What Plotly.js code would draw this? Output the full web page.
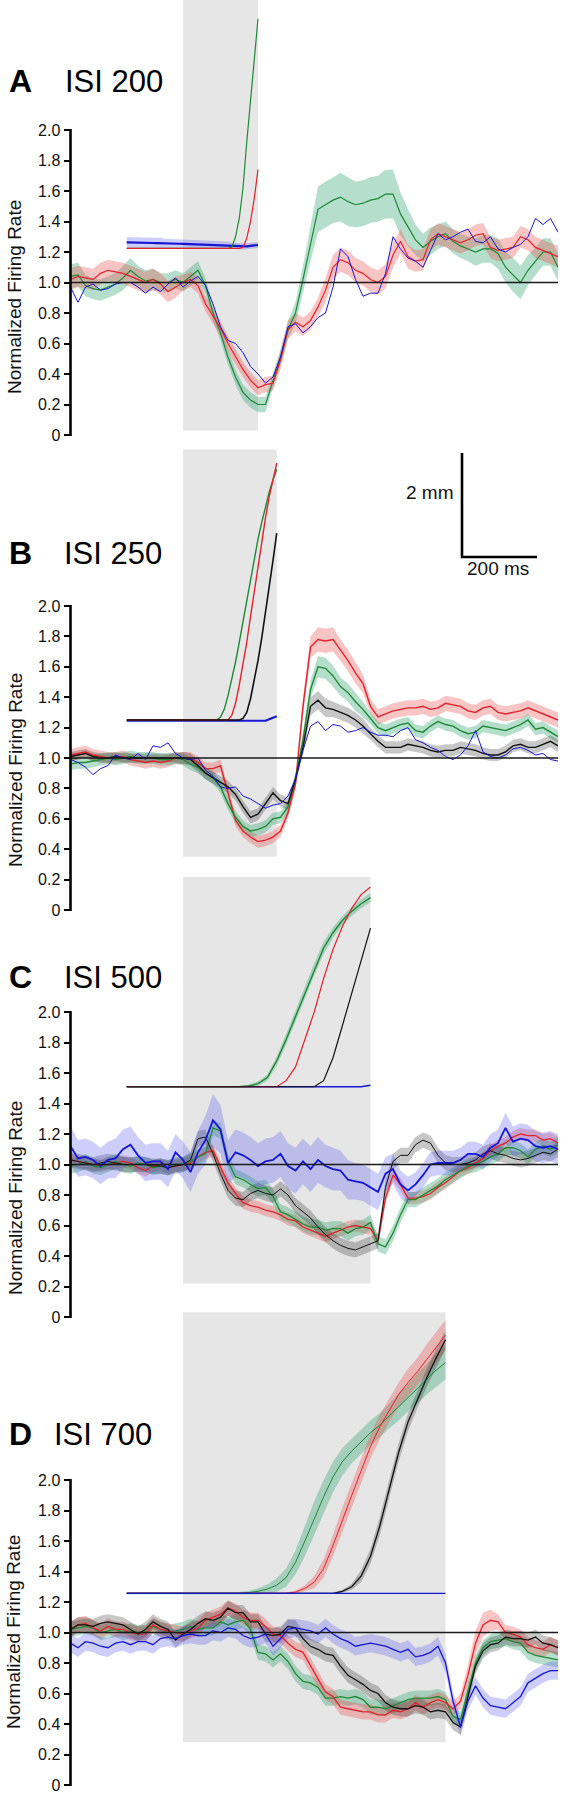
<!DOCTYPE html>
<html><head><meta charset="utf-8">
<script src="https://cdn.plot.ly/plotly-3.0.1.min.js"></script>
<style>html,body{margin:0;padding:0;background:#fff}#chart{width:566px;height:1798px}</style>
</head><body><div id="chart"></div>
<script>
// ---------------- DATA ----------------
// time (ms) relative to first stimulus
const T = [-300,-280,-260,-240,-220,-200,-180,-160,-140,-120,
 -100,-80,-60,-40,-20,0,20,40,60,80,
 100,120,140,160,180,200,220,240,260,280,
 300,320,340,360,380,400,420,440,460,480,
 500,520,540,560,580,600,620,640,660,680,
 700,720,740,760,780,800,820,840,860,880,
 900,920,940,960,980,1000];
const ISI = [200, 250, 500, 700];
const PANEL_LETTERS = ['A','B','C','D'];
const PANEL_TITLES = ['ISI 200','ISI 250','ISI 500','ISI 700'];
const Y_TITLE = 'Normalized Firing Rate';
const TICK_VALS = [0,0.2,0.4,0.6,0.8,1.0,1.2,1.4,1.6,1.8,2.0];
const TICK_TEXT = ['0','0.2','0.4','0.6','0.8','1.0','1.2','1.4','1.6','1.8','2.0'];
const BASELINE = 1.0;
const SCALE_MS = '200 ms', SCALE_MM = '2 mm';

// Panel A firing rates
const A_green = [1.04,1.05,0.98,0.96,0.95,0.97,0.99,1.03,1.08,1.04,
 1.01,1.02,1.00,1.00,1.02,1.00,1.04,1.08,0.98,0.80,
 0.67,0.51,0.38,0.28,0.23,0.20,0.20,0.36,0.51,0.69,
 0.80,1.02,1.26,1.48,1.51,1.54,1.56,1.53,1.51,1.52,
 1.54,1.55,1.58,1.58,1.45,1.36,1.28,1.23,1.27,1.30,
 1.32,1.27,1.24,1.22,1.20,1.22,1.22,1.19,1.10,1.05,
 1.00,1.08,1.14,1.20,1.20,1.10];
const A_green_sem = [0.08,0.08,0.07,0.07,0.07,0.07,0.07,0.08,0.08,0.07,
 0.07,0.07,0.06,0.06,0.06,0.06,0.06,0.06,0.05,0.05,
 0.05,0.05,0.05,0.05,0.05,0.05,0.05,0.05,0.05,0.06,
 0.07,0.09,0.12,0.15,0.15,0.15,0.16,0.16,0.15,0.15,
 0.15,0.15,0.16,0.16,0.14,0.12,0.10,0.09,0.09,0.08,
 0.08,0.08,0.08,0.08,0.09,0.09,0.09,0.10,0.10,0.11,
 0.11,0.10,0.09,0.09,0.09,0.09];
const A_red = [1.02,1.04,1.03,1.02,1.06,1.08,1.07,1.06,1.04,1.02,
 1.00,1.02,0.99,0.94,0.97,1.00,1.02,0.98,0.86,0.78,
 0.70,0.60,0.51,0.43,0.36,0.31,0.33,0.34,0.49,0.69,
 0.74,0.71,0.75,0.84,0.95,1.10,1.15,1.13,1.08,1.06,
 1.02,1.00,1.04,1.18,1.27,1.17,1.14,1.15,1.28,1.32,
 1.30,1.28,1.26,1.28,1.31,1.32,1.23,1.21,1.22,1.23,
 1.30,1.28,1.23,1.21,1.19,1.17];
const A_red_sem = [0.07,0.07,0.07,0.07,0.07,0.07,0.07,0.07,0.07,0.07,
 0.07,0.07,0.07,0.07,0.07,0.05,0.05,0.05,0.05,0.05,
 0.05,0.05,0.05,0.05,0.05,0.05,0.05,0.05,0.06,0.06,
 0.06,0.06,0.06,0.06,0.08,0.08,0.08,0.08,0.08,0.08,
 0.08,0.08,0.08,0.08,0.08,0.08,0.07,0.07,0.07,0.07,
 0.07,0.07,0.07,0.07,0.07,0.07,0.07,0.07,0.07,0.07,
 0.07,0.07,0.07,0.07,0.07,0.07];
const A_blue = [0.97,0.87,0.97,0.99,0.95,0.96,0.99,1.00,1.00,0.97,
 0.93,0.97,0.94,0.99,1.03,0.97,1.01,1.04,0.98,0.86,
 0.71,0.62,0.60,0.54,0.45,0.40,0.34,0.38,0.51,0.71,
 0.73,0.67,0.71,0.77,0.80,0.97,1.22,1.17,1.02,0.91,
 0.93,0.93,1.06,1.30,1.22,1.16,1.14,1.10,1.21,1.32,
 1.28,1.30,1.33,1.35,1.27,1.26,1.30,1.22,1.20,1.23,
 1.25,1.30,1.42,1.38,1.42,1.33];

// Panel B firing rates
const B_red = [1.02,1.03,1.04,1.02,1.01,1.00,1.00,1.01,0.99,0.98,
 0.97,0.98,0.97,0.98,1.00,1.00,1.00,0.97,0.93,0.93,
 0.95,0.77,0.59,0.52,0.48,0.45,0.46,0.48,0.52,0.64,
 0.83,1.34,1.73,1.78,1.77,1.78,1.71,1.64,1.56,1.49,
 1.34,1.27,1.29,1.31,1.32,1.33,1.33,1.34,1.32,1.33,
 1.36,1.35,1.34,1.31,1.30,1.33,1.34,1.30,1.29,1.30,
 1.31,1.33,1.31,1.29,1.27,1.25];
const B_red_sem = [0.04,0.04,0.04,0.04,0.04,0.04,0.04,0.04,0.04,0.04,
 0.04,0.04,0.04,0.04,0.04,0.04,0.04,0.04,0.04,0.04,
 0.04,0.04,0.04,0.04,0.04,0.04,0.04,0.04,0.04,0.04,
 0.05,0.06,0.07,0.08,0.08,0.08,0.07,0.07,0.07,0.06,
 0.05,0.05,0.05,0.05,0.05,0.05,0.05,0.05,0.05,0.05,
 0.05,0.05,0.05,0.05,0.05,0.05,0.05,0.05,0.05,0.05,
 0.05,0.05,0.05,0.05,0.05,0.05];
const B_green = [0.96,0.97,0.97,0.98,0.99,1.00,0.99,1.00,1.01,1.00,
 1.00,1.00,0.99,0.99,1.00,0.99,0.96,0.94,0.90,0.87,
 0.81,0.70,0.61,0.55,0.52,0.53,0.55,0.60,0.61,0.68,
 0.86,1.12,1.45,1.60,1.59,1.54,1.47,1.43,1.37,1.32,
 1.26,1.20,1.18,1.20,1.22,1.23,1.18,1.17,1.21,1.24,
 1.22,1.21,1.18,1.16,1.17,1.21,1.20,1.19,1.18,1.20,
 1.22,1.25,1.19,1.20,1.17,1.14];
const B_green_sem = [0.04,0.04,0.04,0.04,0.04,0.04,0.04,0.04,0.04,0.04,
 0.04,0.04,0.04,0.04,0.04,0.04,0.04,0.04,0.04,0.04,
 0.04,0.04,0.04,0.04,0.04,0.04,0.04,0.04,0.04,0.04,
 0.04,0.05,0.06,0.07,0.07,0.07,0.06,0.06,0.06,0.05,
 0.04,0.04,0.04,0.04,0.04,0.04,0.04,0.04,0.04,0.04,
 0.04,0.04,0.04,0.04,0.04,0.04,0.04,0.04,0.04,0.04,
 0.04,0.04,0.04,0.04,0.04,0.04];
const B_black = [1.01,1.02,1.03,1.01,1.00,1.00,1.01,1.00,1.00,1.00,
 1.00,1.00,1.00,1.00,1.00,1.00,0.99,0.95,0.90,0.87,
 0.84,0.81,0.76,0.68,0.61,0.63,0.70,0.77,0.72,0.70,
 0.86,1.07,1.34,1.38,1.33,1.32,1.30,1.28,1.25,1.21,
 1.16,1.11,1.07,1.07,1.07,1.09,1.08,1.07,1.05,1.04,
 1.05,1.05,1.07,1.06,1.05,1.03,1.02,1.02,1.04,1.08,
 1.09,1.07,1.07,1.09,1.11,1.08];
const B_black_sem = [0.03,0.03,0.03,0.03,0.03,0.03,0.03,0.03,0.03,0.03,
 0.03,0.03,0.03,0.03,0.03,0.04,0.04,0.04,0.04,0.04,
 0.04,0.04,0.04,0.04,0.04,0.04,0.04,0.04,0.04,0.04,
 0.04,0.05,0.06,0.06,0.06,0.05,0.05,0.05,0.05,0.05,
 0.04,0.04,0.04,0.04,0.04,0.04,0.04,0.04,0.04,0.04,
 0.04,0.04,0.04,0.04,0.04,0.04,0.04,0.04,0.04,0.04,
 0.04,0.04,0.04,0.04,0.04,0.04];
const B_blue = [0.99,0.97,0.94,0.89,0.93,0.95,1.02,1.00,0.99,1.03,
 0.99,1.08,1.07,1.10,1.03,1.00,0.99,1.00,0.92,0.88,
 0.81,0.80,0.81,0.75,0.73,0.70,0.67,0.69,0.70,0.75,
 0.86,1.05,1.21,1.24,1.18,1.22,1.21,1.17,1.18,1.20,
 1.17,1.15,1.15,1.14,1.18,1.20,1.12,1.10,1.07,1.05,
 1.01,0.99,1.02,1.08,1.18,1.04,1.01,1.00,1.02,1.06,
 1.07,1.05,1.02,1.03,0.99,0.98];

// Panel C firing rates
const C_red = [1.03,1.02,1.01,1.00,0.99,1.00,1.01,1.02,1.01,0.98,
 0.96,0.99,1.00,0.98,0.99,1.00,1.01,1.05,1.08,1.09,
 0.99,0.88,0.81,0.75,0.73,0.72,0.70,0.69,0.67,0.64,
 0.63,0.59,0.57,0.55,0.53,0.55,0.57,0.59,0.60,0.59,
 0.58,0.50,0.78,0.93,0.87,0.78,0.78,0.79,0.81,0.85,
 0.88,0.92,0.96,0.98,1.01,1.04,1.09,1.12,1.14,1.18,
 1.20,1.19,1.19,1.16,1.17,1.14];
const C_red_sem = 0.04;
const C_green = [0.99,1.00,1.02,0.99,0.98,1.00,1.02,1.00,0.99,1.01,
 1.00,0.98,0.99,0.98,1.00,1.00,1.02,1.05,1.07,1.24,
 1.22,1.02,0.92,0.90,0.87,0.84,0.85,0.79,0.69,0.67,
 0.64,0.61,0.59,0.59,0.57,0.58,0.58,0.55,0.58,0.59,
 0.62,0.48,0.46,0.55,0.67,0.77,0.77,0.80,0.83,0.86,
 0.90,0.93,0.96,0.99,1.00,1.02,1.05,1.07,1.11,1.11,
 1.09,1.05,1.10,1.12,1.10,1.13];
const C_green_sem = 0.05;
const C_black = [1.03,1.02,1.01,1.00,1.01,1.02,1.01,1.00,1.00,1.00,
 1.00,0.99,0.99,0.98,0.99,1.00,1.03,1.17,1.18,1.07,
 0.94,0.83,0.78,0.77,0.81,0.83,0.81,0.80,0.84,0.80,
 0.73,0.69,0.65,0.59,0.54,0.50,0.47,0.45,0.44,0.46,
 0.48,0.50,0.85,1.02,1.06,1.06,1.13,1.16,1.14,1.06,
 1.01,1.00,1.00,1.01,1.03,1.07,1.09,1.07,1.06,1.04,
 1.03,1.04,1.06,1.08,1.07,1.10];
const C_black_sem = 0.05;
const C_blue = [1.12,1.04,1.05,1.03,0.99,1.03,1.04,1.10,1.13,1.06,
 1.01,1.02,1.02,0.97,1.08,1.03,0.95,1.08,1.16,1.29,
 1.23,1.01,1.08,1.06,1.03,0.99,1.02,1.03,1.07,0.99,
 0.96,1.02,0.97,1.03,0.99,0.97,0.96,0.90,0.89,0.88,
 0.85,0.82,0.94,0.97,0.87,0.83,0.87,0.93,1.00,1.01,
 1.01,1.01,1.03,1.07,1.07,1.05,1.11,1.14,1.24,1.15,
 1.17,1.16,1.12,1.11,1.12,1.10];
const C_blue_sem = [0.13,0.12,0.12,0.12,0.12,0.12,0.13,0.13,0.12,0.12,
 0.12,0.12,0.12,0.12,0.12,0.12,0.13,0.14,0.16,0.17,
 0.16,0.15,0.15,0.15,0.15,0.15,0.15,0.15,0.15,0.15,
 0.15,0.15,0.15,0.15,0.14,0.14,0.13,0.13,0.12,0.12,
 0.12,0.12,0.11,0.10,0.09,0.09,0.08,0.08,0.08,0.08,
 0.08,0.08,0.08,0.08,0.08,0.08,0.09,0.09,0.10,0.10,
 0.10,0.10,0.10,0.10,0.10,0.10];

// Panel D firing rates
const D_green = [1.02,1.03,1.04,1.03,1.00,1.01,1.02,1.00,1.01,1.00,
 1.00,1.04,1.02,1.00,1.01,1.02,1.04,1.02,1.03,1.03,
 1.07,1.05,1.07,1.08,1.02,0.87,0.86,0.82,0.86,0.81,
 0.73,0.68,0.67,0.64,0.57,0.57,0.58,0.57,0.58,0.56,
 0.51,0.51,0.50,0.52,0.54,0.56,0.57,0.57,0.57,0.58,
 0.56,0.45,0.43,0.62,0.80,0.90,0.94,0.95,0.96,0.94,
 0.93,0.87,0.85,0.84,0.83,0.82];
const D_green_sem = 0.05;
const D_red = [1.02,1.05,1.06,1.03,1.01,1.04,1.02,1.02,1.00,0.99,
 0.99,1.05,1.02,1.01,1.00,0.99,1.01,1.03,1.08,1.10,
 1.12,1.16,1.14,1.10,1.08,1.08,1.04,0.99,0.98,0.93,
 0.89,0.87,0.78,0.69,0.61,0.58,0.51,0.50,0.49,0.48,
 0.48,0.46,0.46,0.49,0.48,0.50,0.54,0.51,0.54,0.56,
 0.54,0.50,0.55,0.72,0.93,1.05,1.08,1.07,1.00,0.99,
 0.97,0.92,0.90,0.89,0.92,0.90];
const D_red_sem = [0.05,0.05,0.05,0.05,0.05,0.05,0.05,0.05,0.05,0.05,
 0.05,0.05,0.05,0.05,0.05,0.05,0.05,0.05,0.05,0.05,
 0.05,0.05,0.05,0.05,0.05,0.05,0.05,0.05,0.05,0.05,
 0.05,0.05,0.05,0.05,0.05,0.05,0.05,0.05,0.05,0.05,
 0.05,0.05,0.05,0.05,0.05,0.05,0.05,0.05,0.05,0.05,
 0.05,0.05,0.05,0.07,0.08,0.08,0.07,0.05,0.05,0.05,
 0.05,0.05,0.05,0.05,0.05,0.05];
const D_black = [1.02,1.05,1.05,1.04,1.06,1.07,1.06,1.05,1.02,0.99,
 1.02,1.07,1.04,1.02,0.95,0.99,1.02,1.06,1.09,1.08,
 1.10,1.16,1.13,1.13,1.07,1.07,0.99,0.98,0.99,1.04,
 1.03,0.96,0.91,0.89,0.86,0.85,0.78,0.72,0.69,0.66,
 0.62,0.60,0.54,0.51,0.50,0.50,0.52,0.51,0.48,0.49,
 0.48,0.41,0.38,0.58,0.78,0.88,0.92,0.93,0.97,0.96,
 0.96,0.95,0.97,0.93,0.92,0.90];
const D_black_sem = 0.05;
const D_blue = [0.93,0.90,0.94,0.93,0.91,0.90,0.93,0.94,0.92,0.94,
 0.94,0.92,0.96,0.97,0.96,0.98,0.99,0.98,0.98,1.01,
 1.00,1.03,1.02,0.98,0.96,0.97,0.99,0.91,0.96,1.02,
 1.03,1.02,1.01,0.99,1.03,0.99,0.96,0.94,0.91,0.92,
 0.93,0.92,0.91,0.89,0.87,0.89,0.84,0.85,0.87,0.91,
 0.80,0.55,0.38,0.55,0.65,0.57,0.52,0.51,0.50,0.54,
 0.58,0.67,0.70,0.73,0.75,0.75];
const D_blue_sem = 0.06;

// Eye position traces (drawn in the panel's units)
const EYE_T_A = [-150,-140,-130,-120,-110,-100,-90,-80,-70,-60,-50,-40,-30,-20,-10,0,10,20,30,40,50,60,70,80,90,100,110,120,130,140,150,160,170,180,190,200];
const A_eye_blue = [1.263,1.263,1.262,1.262,1.261,1.260,1.260,1.259,1.258,1.258,1.257,1.256,1.256,1.255,1.254,1.253,1.252,1.252,1.251,1.250,1.250,1.249,1.248,1.247,1.247,1.246,1.245,1.244,1.243,1.240,1.238,1.236,1.237,1.240,1.243,1.246];
const A_eye_blue_sem = [0.035,0.035,0.035,0.035,0.035,0.035,0.035,0.035,0.035,0.035,0.03,0.03,0.03,0.03,0.03,0.03,0.03,0.03,0.03,0.03,0.025,0.025,0.025,0.025,0.025,0.025,0.025,0.025,0.02,0.02,0.02,0.02,0.02,0.02,0.02,0.02];
const A_eye_green = [1.224,1.224,1.224,1.224,1.224,1.224,1.224,1.224,1.224,1.224,1.224,1.224,1.224,1.224,1.224,1.224,1.224,1.224,1.224,1.224,1.224,1.224,1.224,1.224,1.224,1.224,1.224,1.224,1.23,1.30,1.42,1.62,1.92,2.20,2.46,2.73];
const A_eye_red = [1.224,1.224,1.224,1.224,1.224,1.224,1.224,1.224,1.224,1.224,1.224,1.224,1.224,1.224,1.224,1.224,1.224,1.224,1.224,1.224,1.224,1.224,1.224,1.224,1.224,1.224,1.224,1.224,1.224,1.224,1.224,1.23,1.29,1.40,1.55,1.74];

const EYE_T_B = [-150,-140,-130,-120,-110,-100,-90,-80,-70,-60,-50,-40,-30,-20,-10,0,10,20,30,40,50,60,70,80,90,100,110,120,130,140,150,160,170,180,190,200,210,220,230,240,250];
const B_eye_green = [1.25,1.25,1.25,1.25,1.25,1.25,1.25,1.25,1.25,1.25,1.25,1.25,1.25,1.25,1.25,1.25,1.25,1.25,1.25,1.25,1.25,1.25,1.25,1.25,1.25,1.27,1.32,1.41,1.51,1.63,1.76,1.90,2.04,2.18,2.31,2.44,2.55,2.66,2.75,2.83,2.90];
const B_eye_red = [1.25,1.25,1.25,1.25,1.25,1.25,1.25,1.25,1.25,1.25,1.25,1.25,1.25,1.25,1.25,1.25,1.25,1.25,1.25,1.25,1.25,1.25,1.25,1.25,1.25,1.25,1.25,1.25,1.28,1.36,1.48,1.61,1.76,1.93,2.10,2.27,2.43,2.58,2.72,2.84,2.94];
const B_eye_black = [1.25,1.25,1.25,1.25,1.25,1.25,1.25,1.25,1.25,1.25,1.25,1.25,1.25,1.25,1.25,1.25,1.25,1.25,1.25,1.25,1.25,1.25,1.25,1.25,1.25,1.25,1.25,1.25,1.25,1.25,1.25,1.26,1.30,1.39,1.51,1.64,1.79,1.95,2.12,2.30,2.48];
const B_eye_blue = [1.245,1.245,1.245,1.245,1.245,1.245,1.245,1.245,1.245,1.245,1.245,1.245,1.245,1.245,1.245,1.245,1.245,1.245,1.245,1.245,1.245,1.245,1.245,1.245,1.245,1.245,1.245,1.245,1.245,1.245,1.245,1.245,1.245,1.245,1.245,1.245,1.245,1.245,1.255,1.265,1.275];

const EYE_T_C = [-150,-125,-100,-75,-50,-25,0,25,50,75,100,125,150,175,200,225,250,275,300,325,350,375,400,425,450,475,500];
const C_eye_green = [1.51,1.51,1.51,1.51,1.51,1.51,1.51,1.51,1.51,1.51,1.51,1.51,1.51,1.515,1.53,1.57,1.68,1.82,1.97,2.13,2.28,2.42,2.52,2.60,2.66,2.71,2.75];
const C_eye_green_sem = [0.005,0.005,0.005,0.005,0.005,0.005,0.005,0.005,0.005,0.005,0.005,0.005,0.005,0.01,0.015,0.02,0.03,0.035,0.04,0.04,0.04,0.04,0.035,0.03,0.03,0.03,0.03];
const C_eye_red = [1.51,1.51,1.51,1.51,1.51,1.51,1.51,1.51,1.51,1.51,1.51,1.51,1.51,1.51,1.51,1.51,1.51,1.55,1.64,1.82,2.00,2.22,2.41,2.56,2.68,2.77,2.82];
const C_eye_black = [1.51,1.51,1.51,1.51,1.51,1.51,1.51,1.51,1.51,1.51,1.51,1.51,1.51,1.51,1.51,1.51,1.51,1.51,1.51,1.51,1.51,1.55,1.70,1.91,2.12,2.34,2.55];
const C_eye_blue = [1.51,1.51,1.51,1.51,1.51,1.51,1.51,1.51,1.51,1.51,1.51,1.51,1.51,1.51,1.51,1.51,1.51,1.51,1.51,1.51,1.51,1.51,1.51,1.51,1.51,1.51,1.52];

const EYE_T_D = [-150,-125,-100,-75,-50,-25,0,25,50,75,100,125,150,175,200,225,250,275,300,325,350,375,400,425,450,475,500,525,550,575,600,625,650,675,700];
const D_eye_green = [1.257,1.257,1.257,1.257,1.257,1.257,1.257,1.257,1.257,1.257,1.257,1.257,1.257,1.262,1.27,1.285,1.31,1.36,1.46,1.60,1.75,1.89,2.02,2.12,2.19,2.25,2.31,2.36,2.42,2.48,2.54,2.60,2.66,2.72,2.77];
const D_eye_green_sem = [0.008,0.008,0.008,0.008,0.008,0.008,0.008,0.008,0.008,0.008,0.008,0.008,0.008,0.012,0.02,0.03,0.045,0.06,0.08,0.10,0.11,0.11,0.10,0.09,0.08,0.08,0.08,0.08,0.08,0.09,0.09,0.10,0.10,0.11,0.11];
const D_eye_red = [1.257,1.257,1.257,1.257,1.257,1.257,1.257,1.257,1.257,1.257,1.257,1.257,1.257,1.257,1.257,1.257,1.257,1.257,1.265,1.29,1.33,1.42,1.57,1.74,1.90,2.06,2.22,2.35,2.46,2.56,2.64,2.71,2.79,2.87,2.95];
const D_eye_red_sem = [0.005,0.005,0.005,0.005,0.005,0.005,0.005,0.005,0.005,0.005,0.005,0.005,0.005,0.005,0.005,0.005,0.005,0.005,0.01,0.02,0.04,0.06,0.07,0.08,0.08,0.08,0.08,0.08,0.08,0.08,0.09,0.09,0.10,0.10,0.10];
const D_eye_black = [1.257,1.257,1.257,1.257,1.257,1.257,1.257,1.257,1.257,1.257,1.257,1.257,1.257,1.257,1.257,1.257,1.257,1.257,1.257,1.257,1.257,1.257,1.257,1.27,1.30,1.37,1.50,1.70,1.94,2.18,2.38,2.53,2.67,2.80,2.92];
const D_eye_black_sem = [0.005,0.005,0.005,0.005,0.005,0.005,0.005,0.005,0.005,0.005,0.005,0.005,0.005,0.005,0.005,0.005,0.005,0.005,0.005,0.005,0.005,0.005,0.005,0.01,0.02,0.04,0.05,0.06,0.06,0.06,0.06,0.06,0.06,0.06,0.06];
const D_eye_blue = [1.257,1.257,1.257,1.257,1.257,1.257,1.257,1.257,1.257,1.257,1.257,1.257,1.257,1.257,1.257,1.257,1.257,1.257,1.257,1.257,1.257,1.257,1.257,1.257,1.257,1.257,1.257,1.257,1.257,1.257,1.257,1.257,1.257,1.257,1.257];

// ---------------- LAYOUT / STYLE ----------------
const W = 566, H = 1798;
const T0_PX = 183, PX_PER_MS = 0.375;
const AXIS_PX = T0_PX + T[0] * PX_PER_MS;
const X_RANGE = [T[0], (W - T0_PX) / PX_PER_MS];
const X_DOMAIN = [AXIS_PX / W, 1];
const FONT = 'Liberation Sans, Arial, Helvetica, sans-serif';
const LINE = {green:'#1d8a33', red:'#e4222c', blue:'#1616d6', black:'#111111'};
const FILL = {green:'rgba(60,170,120,0.38)', red:'rgba(235,70,70,0.32)', blue:'rgba(80,80,240,0.28)', black:'rgba(0,0,0,0.22)'};

const panels = [
 {top:0, bottom:445, zeroPx:435, twoPx:130, gray:[0.03,2.86], labelY:81, isiX:63, titleY:297, titleX:15, lw:1.2,
  rates:[{y:A_green,sem:A_green_sem,c:'green'},{y:A_red,sem:A_red_sem,c:'red'},{y:A_blue,sem:null,c:'blue',w:1}],
  eyeT:EYE_T_A, eyes:[{y:A_eye_blue,sem:A_eye_blue_sem,c:'blue',w:2.2},{y:A_eye_green,c:'green',w:1.2},{y:A_eye_red,c:'red',w:1.2}]},
 {top:445, bottom:915, zeroPx:910, twoPx:606, gray:[0.35,3.03], labelY:553, isiX:62, titleY:770, titleX:15, lw:1.4,
  rates:[{y:B_red,sem:B_red_sem,c:'red'},{y:B_green,sem:B_green_sem,c:'green'},{y:B_black,sem:B_black_sem,c:'black'},{y:B_blue,sem:null,c:'blue',w:1}],
  eyeT:EYE_T_B, eyes:[{y:B_eye_blue,c:'blue',w:2},{y:B_eye_green,c:'green',w:1.4},{y:B_eye_red,c:'red',w:1.4},{y:B_eye_black,c:'black',w:1.6}]},
 {top:870, bottom:1322, zeroPx:1317, twoPx:1012, gray:[0.22,2.885], labelY:977, isiX:62, titleY:1198, titleX:15, lw:1.3,
  rates:[{y:C_red,sem:C_red_sem,c:'red'},{y:C_green,sem:C_green_sem,c:'green'},{y:C_black,sem:C_black_sem,c:'black',w:1},{y:C_blue,sem:C_blue_sem,c:'blue',w:1.8}],
  eyeT:EYE_T_C, eyes:[{y:C_eye_blue,c:'blue',w:1.6},{y:C_eye_green,sem:C_eye_green_sem,c:'green',w:1.4},{y:C_eye_red,c:'red',w:1.2},{y:C_eye_black,c:'black',w:1.2}]},
 {top:1305, bottom:1798, zeroPx:1785, twoPx:1480, gray:[0.28,3.10], labelY:1434, isiX:52, titleY:1632, titleX:13, lw:1.3,
  rates:[{y:D_green,sem:D_green_sem,c:'green'},{y:D_red,sem:D_red_sem,c:'red'},{y:D_black,sem:D_black_sem,c:'black'},{y:D_blue,sem:D_blue_sem,c:'blue'}],
  eyeT:EYE_T_D, eyes:[{y:D_eye_green,sem:D_eye_green_sem,c:'green',w:1},{y:D_eye_red,sem:D_eye_red_sem,c:'red',w:1},{y:D_eye_black,sem:D_eye_black_sem,c:'black',w:1.3},{y:D_eye_blue,c:'blue',w:1.2}]}
];

const traces = [];
const shapes = [];
const annotations = [];
const layout = {
  width: W, height: H, margin:{l:0,r:0,t:0,b:0},
  paper_bgcolor:'#ffffff', plot_bgcolor:'rgba(0,0,0,0)',
  showlegend:false, hovermode:false, font:{family:FONT, color:'#111'}
};

function semAt(sem, i){ return (typeof sem === 'number') ? sem : sem[i]; }
function band(t, y, sem, color, xa, ya){
  const up = y.map((v,i)=>v + semAt(sem,i));
  const lo = y.map((v,i)=>v - semAt(sem,i));
  traces.push({x: t.concat(t.slice().reverse()), y: up.concat(lo.slice().reverse()),
    type:'scatter', mode:'lines', fill:'toself', fillcolor:FILL[color],
    line:{width:0, color:'rgba(0,0,0,0)'}, xaxis:xa, yaxis:ya, hoverinfo:'skip'});
}
function line(t, y, color, w, xa, ya){
  traces.push({x:t, y:y, type:'scatter', mode:'lines', line:{color:LINE[color], width:w},
    xaxis:xa, yaxis:ya, hoverinfo:'skip'});
}

panels.forEach((p, k) => {
  const sfx = k === 0 ? '' : String(k+1);
  const xa = 'x' + sfx, ya = 'y' + sfx;
  const unit = (p.zeroPx - p.twoPx) / 2;
  layout['xaxis' + sfx] = {domain:X_DOMAIN, range:X_RANGE, visible:false, fixedrange:true, anchor:ya};
  layout['yaxis' + sfx] = {domain:[1 - p.bottom/H, 1 - p.top/H],
    range:[(p.zeroPx - p.bottom)/unit, (p.zeroPx - p.top)/unit],
    tickmode:'array', tickvals:TICK_VALS, ticktext:TICK_TEXT, ticks:'outside', ticklen:6, tickwidth:2,
    tickcolor:'#000', showgrid:false, zeroline:false, showline:false, fixedrange:true,
    tickfont:{family:FONT, size:16, color:'#111'}, anchor:xa};

  // stimulus interval shading
  shapes.push({type:'rect', xref:xa, yref:ya, x0:0, x1:ISI[k], y0:p.gray[0], y1:p.gray[1],
    fillcolor:'#e6e6e6', line:{width:0}, layer:'below'});
  // y axis line from 0 to 2.0
  shapes.push({type:'line', xref:'paper', yref:'paper', x0:AXIS_PX/W, x1:AXIS_PX/W,
    y0:1 - (p.zeroPx + 1)/H, y1:1 - (p.twoPx - 1)/H, line:{color:'#000', width:2.6}});

  // eye traces
  p.eyes.forEach(e => { if (e.sem) band(p.eyeT, e.y, e.sem, e.c, xa, ya); });
  p.eyes.forEach(e => line(p.eyeT, e.y, e.c, e.w, xa, ya));
  // firing rate traces
  p.rates.forEach(r => { if (r.sem !== null) band(T, r.y, r.sem, r.c, xa, ya); });
  p.rates.forEach(r => line(T, r.y, r.c, r.w || p.lw, xa, ya));
  // baseline
  traces.push({x:[T[0], T[T.length-1]], y:[BASELINE, BASELINE], type:'scatter', mode:'lines',
    line:{color:'#1a1a1a', width:1.6}, xaxis:xa, yaxis:ya, hoverinfo:'skip'});

  // labels
  annotations.push({xref:'paper', yref:'paper', x:7/W, y:1 - p.labelY/H, xanchor:'left', yanchor:'middle',
    text:'<b>' + PANEL_LETTERS[k] + '</b>', showarrow:false, font:{family:FONT, size:32, color:'#000'}});
  annotations.push({xref:'paper', yref:'paper', x:p.isiX/W, y:1 - p.labelY/H, xanchor:'left', yanchor:'middle',
    text:PANEL_TITLES[k], showarrow:false, font:{family:FONT, size:31, color:'#000'}});
  annotations.push({xref:'paper', yref:'paper', x:p.titleX/W, y:1 - p.titleY/H, xanchor:'center', yanchor:'middle',
    text:Y_TITLE, textangle:-90, showarrow:false, font:{family:FONT, size:19, color:'#111'}});
});

// scale bar (2 mm / 200 ms)
const SB = {x:462, yTop:453, yBot:557, xEnd:537};
shapes.push({type:'path', xref:'paper', yref:'paper',
  path:'M' + (SB.x/W) + ',' + (1 - SB.yTop/H) + ' L' + (SB.x/W) + ',' + (1 - SB.yBot/H) + ' L' + (SB.xEnd/W) + ',' + (1 - SB.yBot/H),
  line:{color:'#000', width:2.6}});
annotations.push({xref:'paper', yref:'paper', x:456/W, y:1 - 493/H, xanchor:'right', yanchor:'middle',
  text:SCALE_MM, showarrow:false, font:{family:FONT, size:19, color:'#111'}});
annotations.push({xref:'paper', yref:'paper', x:498/W, y:1 - 568/H, xanchor:'center', yanchor:'middle',
  text:SCALE_MS, showarrow:false, font:{family:FONT, size:19, color:'#111'}});

layout.shapes = shapes;
layout.annotations = annotations;

Plotly.newPlot('chart', traces, layout, {staticPlot:true, displayModeBar:false});
</script></body></html>
